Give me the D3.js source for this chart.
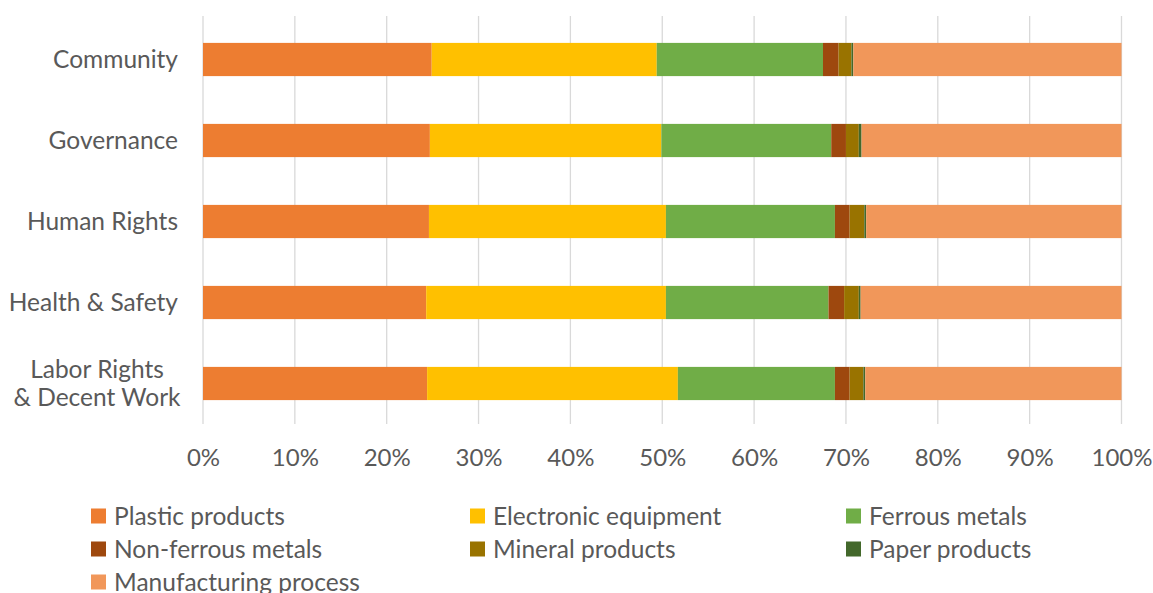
<!DOCTYPE html>
<html><head><meta charset="utf-8">
<script src="https://cdn.jsdelivr.net/npm/d3@7"></script>
<style>body{margin:0;background:#fff}svg{display:block}text{font-family:Lato,"Open Sans",sans-serif;fill:#595959}</style>
</head><body><svg id="c" width="1153" height="593"></svg>
<script>
const categories = ["Community","Governance","Human Rights","Health & Safety","Labor Rights\n& Decent Work"];
const seriesNames = ["Plastic products","Electronic equipment","Ferrous metals","Non-ferrous metals","Mineral products","Paper products","Manufacturing process"];
const plastic = [24.9,24.7,24.6,24.3,24.4];
const electronic = [24.5,25.2,25.8,26.1,27.3];
const ferrous = [18.1,18.5,18.4,17.7,17.1];
const nonFerrous = [1.7,1.6,1.6,1.7,1.6];
const mineral = [1.4,1.4,1.6,1.6,1.5];
const paper = [0.2,0.3,0.2,0.2,0.2];
const manufacturing = [29.2,28.3,27.8,28.4,27.9];
const xTicks = [0,10,20,30,40,50,60,70,80,90,100];
const colors = ["#ED7D31","#FFC000","#70AD47","#9E480E","#997300","#43682B","#F1975A"];

const seriesVals = [plastic,electronic,ferrous,nonFerrous,mineral,paper,manufacturing];
const rows = categories.map((c,i)=>{const o={cat:c};seriesNames.forEach((s,j)=>o[s]=seriesVals[j][i]);return o;});
const stacked = d3.stack().keys(seriesNames).offset(d3.stackOffsetExpand)(rows);

const svg = d3.select("#c");
const x = d3.scaleLinear().domain([0,1]).range([203,1121.5]);
const y = d3.scaleBand().domain(categories).range([19,424]).paddingInner(0.59).paddingOuter(0.295);
const FS = 24.5;

// gridlines
svg.append("g").selectAll("line").data(xTicks).join("line")
  .attr("x1",d=>x(d/100)).attr("x2",d=>x(d/100)).attr("y1",16).attr("y2",424)
  .attr("stroke","#d9d9d9").attr("stroke-width",1.3);

// bars
svg.append("g").selectAll("g").data(stacked).join("g").attr("fill",(d,i)=>colors[i])
  .selectAll("rect").data(d=>d).join("rect")
  .attr("x",d=>x(d[0])).attr("width",d=>x(d[1])-x(d[0]))
  .attr("y",d=>y(d.data.cat)).attr("height",y.bandwidth());

// x axis labels
const xa = d3.axisBottom(x).tickValues(xTicks.map(d=>d/100)).tickFormat(d3.format(".0%")).tickSize(0);
const gx = svg.append("g").attr("transform","translate(0,446)").call(xa);
gx.select(".domain").remove();
gx.selectAll("text").attr("font-size",24).style("fill","#595959").style("font-family",'Lato,"Open Sans",sans-serif');

// y labels
const gy = svg.append("g");
categories.forEach(c=>{
  const lines = c.split("\n");
  const cy = y(c)+y.bandwidth()/2;
  if(lines.length===1){
    gy.append("text").attr("x",178).attr("y",cy).attr("dy","0.35em").attr("text-anchor","end").attr("font-size",FS).text(c);
  } else {
    lines.forEach((l,k)=>{
      gy.append("text").attr("x",97).attr("y",cy+(k-0.5)*28).attr("dy","0.35em").attr("text-anchor","middle").attr("font-size",FS).text(l);
    });
  }
});

// legend
const legX = [91,470,846], legY = [516,549,582];
const lg = svg.append("g");
seriesNames.forEach((s,i)=>{
  const col=i%3,row=Math.floor(i/3);
  lg.append("rect").attr("x",legX[col]).attr("y",legY[row]-7.5).attr("width",15).attr("height",15).attr("fill",colors[i]);
  lg.append("text").attr("x",legX[col]+23).attr("y",legY[row]).attr("dy","0.35em").attr("font-size",FS).text(s);
});
</script></body></html>
